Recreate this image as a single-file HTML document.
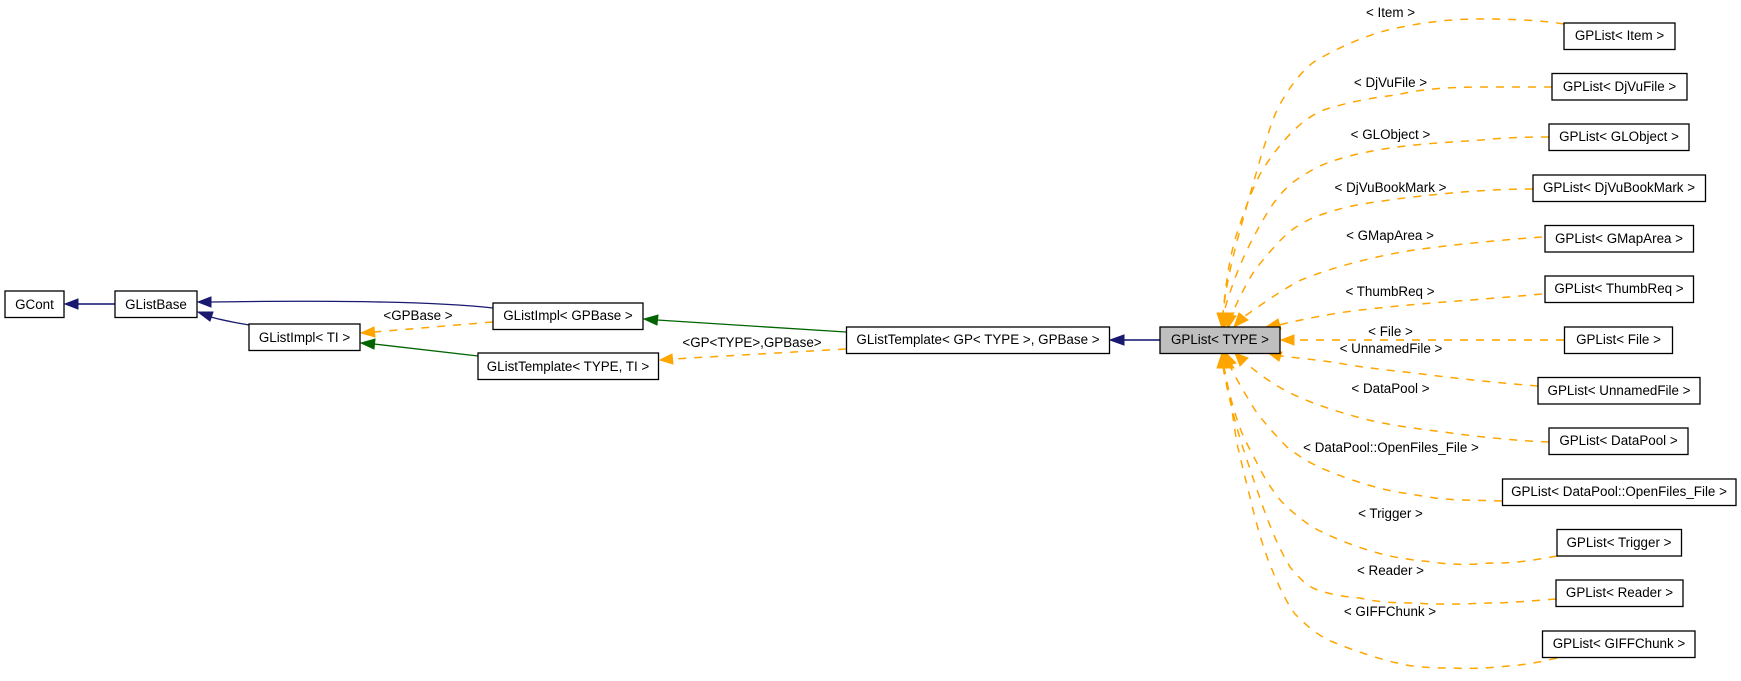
<!DOCTYPE html>
<html><head><meta charset="utf-8"><style>
html,body{margin:0;padding:0;background:#fff;width:1741px;height:681px;overflow:hidden}
svg{display:block}
text{font-family:"Liberation Sans",Arial,sans-serif;font-size:13.4px;fill:#000;text-anchor:middle}
rect{fill:#fff;stroke:#000;stroke-width:1.3}
.o{fill:none;stroke:#ffa500;stroke-width:1.5;stroke-dasharray:8 8}
.a{fill:#ffa500;stroke:#ffa500;stroke-width:1}
</style></head><body>
<svg width="1741" height="681" viewBox="0 0 1741 681" xmlns="http://www.w3.org/2000/svg">
<!-- solid edges -->
<path d="M78,304H115" fill="none" stroke="#4b4b92" stroke-width="2"/>
<polygon points="65,304 78,299 78,309" fill="#191970" stroke="#191970"/>
<path d="M211,302C280,301 420,300 493,308" fill="none" stroke="#191970" stroke-width="1.3"/>
<polygon points="198,302 211,297 211,307" fill="#191970" stroke="#191970"/>
<path d="M211,317C225,321 238,323 249,325" fill="none" stroke="#191970" stroke-width="1.3"/>
<polygon points="198,312 213,312 210,321" fill="#191970" stroke="#191970"/>
<path d="M374,344L478,356" fill="none" stroke="#006400" stroke-width="1.3"/>
<polygon points="361,343 375,339 374,349" fill="#006400" stroke="#006400"/>
<path d="M657,320L846,332" fill="none" stroke="#006400" stroke-width="1.3"/>
<polygon points="644,319 658,315 657,325" fill="#006400" stroke="#006400"/>
<path d="M1124,340H1160" fill="none" stroke="#4b4b92" stroke-width="2"/>
<polygon points="1110,340 1124,335 1124,345" fill="#191970" stroke="#191970"/>
<!-- dashed edges -->
<path class="o" d="M493,322L374,332"/>
<polygon class="a" points="361,333 374,327 375,337"/>
<path class="o" d="M846,349L673,359"/>
<polygon class="a" points="660,360 672,354 673,364"/>
<path class="o" d="M1564,24C1540,20 1510,19 1482,19C1455,19 1430,21 1397,28C1375,32 1345,44 1317,60C1305,67 1290,85 1278,108C1272,120 1267,138 1262,153C1255,177 1247,205 1240,230C1232,260 1226,285 1223,314"/>
<path class="o" d="M1552,87C1530,87 1505,87 1482,87C1450,87 1420,89 1397,95C1375,97 1350,102 1330,108C1315,112 1302,122 1291,133C1280,145 1272,155 1263,169C1255,183 1248,200 1238,230C1232,248 1227,270 1223,314"/>
<path class="o" d="M1549,137C1520,137 1500,138 1482,140C1450,142 1420,144 1397,147C1375,150 1350,155 1333,161C1320,165 1307,172 1292,183C1280,193 1270,207 1262,222C1253,237 1244,255 1235,278C1231,290 1226,302 1224,314"/>
<path class="o" d="M1533,189C1500,189 1475,191 1451,193C1430,195 1412,197 1397,199C1375,202 1350,205 1330,212C1315,216 1300,223 1288,233C1278,242 1265,257 1255,270C1245,285 1236,305 1231,316"/>
<path class="o" d="M1542,237C1500,240 1450,245 1414,250C1375,256 1330,268 1301,280C1285,288 1265,302 1245,316"/>
<polygon class="a" points="1222,328 1217,313 1232,313"/>
<polygon class="a" points="1224,328 1219,313 1234,313"/>
<polygon class="a" points="1228,328 1224,314 1236,316"/>
<polygon class="a" points="1234,327 1239,313 1248,320"/>
<path class="o" d="M1542,294C1480,300 1400,304 1338,313C1315,317 1295,321 1279,325"/>
<polygon class="a" points="1266,327 1278,319 1281,329"/>
<path d="M1564,340H1294" fill="none" stroke="#ffb833" stroke-width="2" stroke-dasharray="8 8"/>
<polygon class="a" points="1281,340 1294,335 1294,345"/>
<path class="o" d="M1538,386C1500,383 1460,379 1414,373C1385,370 1360,367 1338,363C1318,360 1298,358 1280,356"/>
<polygon class="a" points="1267,352 1282,352 1279,361"/>
<path class="o" d="M1549,442C1520,441 1480,437 1451,433C1420,429 1385,425 1357,417C1335,411 1315,404 1301,398C1285,391 1268,382 1246,363"/>
<path class="o" d="M1502,501C1480,500 1450,501 1429,497C1410,494 1393,492 1375,487C1355,481 1335,475 1313,464C1303,459 1295,453 1287,447C1275,435 1262,420 1255,410C1247,397 1238,382 1232,370C1230,366 1229,364 1228,362"/>
<path class="o" d="M1557,556C1535,560 1510,564 1489,563C1470,565 1450,565 1433,562C1412,560 1395,558 1378,553C1360,548 1340,541 1318,530C1305,523 1293,513 1281,501C1272,490 1263,476 1256,461C1251,452 1246,442 1242,433C1236,418 1229,395 1224,367"/>
<path class="o" d="M1556,599C1530,601 1510,603 1489,603C1465,604 1440,605 1414,603C1395,603 1375,602 1360,598C1345,597 1328,594 1315,589C1305,585 1297,575 1290,567C1280,550 1275,538 1269,523C1263,508 1253,478 1243,448C1237,430 1228,395 1223,367"/>
<path class="o" d="M1557,658C1540,662 1525,665 1508,666C1490,668 1470,669 1451,668C1430,668 1412,667 1397,663C1375,658 1350,649 1333,642C1318,636 1306,625 1295,614C1285,600 1277,583 1267,557C1260,537 1254,515 1250,497C1245,478 1241,460 1238,448C1235,433 1233,418 1231,402C1229,390 1227,385 1225,372"/>
<polygon class="a" points="1222,353 1217,368 1232,368"/>
<polygon class="a" points="1224,353 1219,368 1234,368"/>
<polygon class="a" points="1226,353 1222,367 1236,363"/>
<polygon class="a" points="1235,353 1240,366 1248,358"/>
<!-- nodes -->
<rect x="5" y="291" width="59" height="26.5"/><text x="34.5" y="309">GCont</text>
<rect x="115" y="291" width="82" height="26.5"/><text x="156" y="309">GListBase</text>
<rect x="249" y="324" width="111" height="26.5"/><text x="304.5" y="342">GListImpl&lt; TI &gt;</text>
<rect x="493" y="303" width="150" height="26.5"/><text x="568" y="320">GListImpl&lt; GPBase &gt;</text>
<rect x="478" y="353" width="180.5" height="26.5"/><text x="568" y="371">GListTemplate&lt; TYPE, TI &gt;</text>
<rect x="846.5" y="327" width="263" height="26.5"/><text x="978" y="344">GListTemplate&lt; GP&lt; TYPE &gt;, GPBase &gt;</text>
<rect x="1160" y="327" width="120" height="26.5" style="fill:#bfbfbf"/><text x="1220" y="344">GPList&lt; TYPE &gt;</text>
<rect x="1564" y="23" width="111" height="26.5"/><text x="1619.5" y="40">GPList&lt; Item &gt;</text>
<rect x="1552" y="73.5" width="135" height="26.5"/><text x="1619.5" y="91">GPList&lt; DjVuFile &gt;</text>
<rect x="1549" y="124" width="140" height="26.5"/><text x="1619" y="141">GPList&lt; GLObject &gt;</text>
<rect x="1533" y="175" width="172.5" height="26.5"/><text x="1619" y="192">GPList&lt; DjVuBookMark &gt;</text>
<rect x="1545" y="225.5" width="148.5" height="26.5"/><text x="1619" y="243">GPList&lt; GMapArea &gt;</text>
<rect x="1545" y="276" width="148.5" height="26.5"/><text x="1619" y="293">GPList&lt; ThumbReq &gt;</text>
<rect x="1564.5" y="327" width="108" height="26.5"/><text x="1618.5" y="344">GPList&lt; File &gt;</text>
<rect x="1538" y="377.5" width="162" height="26.5"/><text x="1619" y="395">GPList&lt; UnnamedFile &gt;</text>
<rect x="1549" y="428" width="139" height="26.5"/><text x="1618.5" y="445">GPList&lt; DataPool &gt;</text>
<rect x="1502.5" y="479" width="233.5" height="26.5"/><text x="1619" y="496">GPList&lt; DataPool::OpenFiles_File &gt;</text>
<rect x="1557" y="529.5" width="124.5" height="26.5"/><text x="1619" y="547">GPList&lt; Trigger &gt;</text>
<rect x="1556" y="580" width="127" height="26.5"/><text x="1619.5" y="597">GPList&lt; Reader &gt;</text>
<rect x="1542.5" y="631" width="152.5" height="26.5"/><text x="1619" y="648">GPList&lt; GIFFChunk &gt;</text>
<!-- edge labels -->
<text x="418" y="320">&lt;GPBase &gt;</text>
<text x="752" y="347">&lt;GP&lt;TYPE&gt;,GPBase&gt;</text>
<text x="1390.5" y="17">&lt; Item &gt;</text>
<text x="1390.5" y="87">&lt; DjVuFile &gt;</text>
<text x="1390.5" y="139">&lt; GLObject &gt;</text>
<text x="1390.5" y="192">&lt; DjVuBookMark &gt;</text>
<text x="1390" y="240">&lt; GMapArea &gt;</text>
<text x="1390" y="296">&lt; ThumbReq &gt;</text>
<text x="1390.5" y="336">&lt; File &gt;</text>
<text x="1391" y="353">&lt; UnnamedFile &gt;</text>
<text x="1390.5" y="393">&lt; DataPool &gt;</text>
<text x="1391" y="452">&lt; DataPool::OpenFiles_File &gt;</text>
<text x="1390.5" y="518">&lt; Trigger &gt;</text>
<text x="1390.5" y="575">&lt; Reader &gt;</text>
<text x="1390" y="616">&lt; GIFFChunk &gt;</text>
</svg>
</body></html>
